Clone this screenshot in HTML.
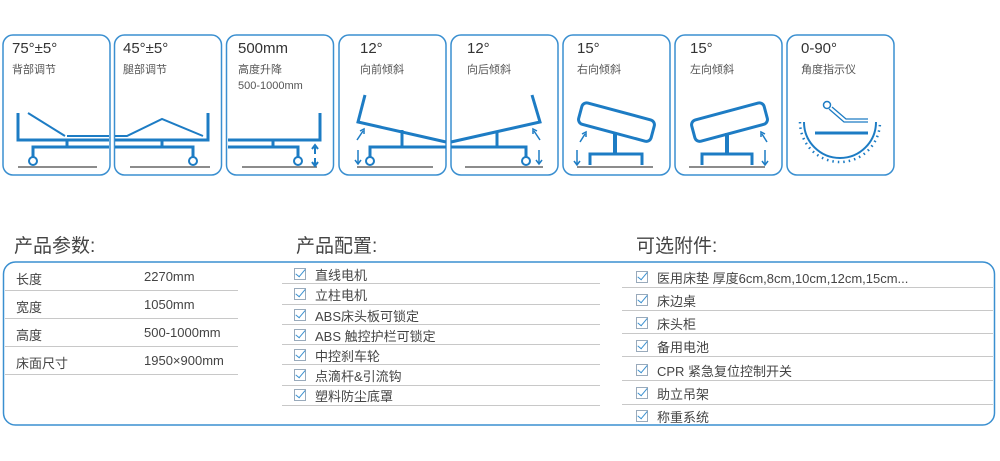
<!DOCTYPE html>
<html><head><meta charset="utf-8"><style>
body{margin:0;width:1000px;height:461px;background:#fff;position:relative;overflow:hidden;font-family:"Liberation Sans","Noto Sans CJK SC",sans-serif;}
.t{position:absolute;white-space:nowrap;}
.big{font-size:15px;color:#333;}
.sub{font-size:11px;color:#555;}
.h{font-size:19px;color:#444;}
.r{font-size:13px;color:#444;}
.line{position:absolute;height:1px;background:#c8c8c8;}
.ck{position:absolute;width:10px;height:10px;border:1px solid #9ab;}
.ck:after{content:"";position:absolute;left:3px;top:-2px;width:4px;height:9px;border:solid #3a90d0;border-width:0 1.5px 1.5px 0;transform:rotate(40deg);}
</style></head><body>
<svg width="1000" height="461" style="position:absolute;left:0;top:0" fill="none" stroke="#1d7cc4" stroke-width="3">
<g stroke="#3a8fd0" stroke-width="1.5">
<rect x="3" y="35" width="107" height="140" rx="10"/>
<rect x="114.5" y="35" width="107" height="140" rx="10"/>
<rect x="226.5" y="35" width="107" height="140" rx="10"/>
<rect x="339" y="35" width="107" height="140" rx="10"/>
<rect x="451" y="35" width="107" height="140" rx="10"/>
<rect x="563" y="35" width="107" height="140" rx="10"/>
<rect x="675" y="35" width="107" height="140" rx="10"/>
<rect x="787" y="35" width="107" height="140" rx="10"/>
<rect x="3.5" y="262" width="991" height="163" rx="12"/>
</g>
<g stroke="#666" stroke-width="1.5">
<line x1="18" y1="167" x2="97" y2="167"/><line x1="130" y1="167" x2="210" y2="167"/>
<line x1="242" y1="167" x2="317" y2="167"/><line x1="357" y1="167" x2="433" y2="167"/>
<line x1="465" y1="167" x2="543" y2="167"/><line x1="577" y1="167" x2="653" y2="167"/>
<line x1="689" y1="167" x2="765" y2="167"/>
</g>
<!-- card1 -->
<polyline points="18,113 18,140 109,140"/>
<line x1="28" y1="113" x2="65" y2="136" stroke-width="2"/>
<line x1="67" y1="136" x2="109" y2="136" stroke-width="2"/>
<line x1="67" y1="140" x2="67" y2="147"/>
<polyline points="33,157 33,147 109,147"/>
<circle cx="33" cy="161" r="4" stroke-width="2"/>
<!-- card2 -->
<polyline points="115,140 208,140 208,113"/>
<polyline points="115,136 127,136 162,119 203,136" stroke-width="2"/>
<line x1="162" y1="140" x2="162" y2="147"/>
<polyline points="115,147 193,147 193,157"/>
<circle cx="193" cy="161" r="4" stroke-width="2"/>
<!-- card3 -->
<polyline points="228,140 320,140 320,113"/>
<line x1="273" y1="140" x2="273" y2="147"/>
<polyline points="228,147 298,147 298,157"/>
<circle cx="298" cy="161" r="4" stroke-width="2"/>
<g stroke-width="2"><line x1="315" y1="147" x2="315" y2="154"/><polyline points="312,149 315,145 318,149"/><line x1="315" y1="158" x2="315" y2="166"/><polyline points="312,162 315,166 318,162"/></g>
<!-- card4 -->
<polyline points="365,95 358,122 446,142"/>
<line x1="402" y1="130" x2="402" y2="147"/>
<polyline points="370,157 370,147 446,147"/>
<circle cx="370" cy="161" r="4" stroke-width="2"/>
<g stroke-width="1.5"><line x1="357" y1="140" x2="363" y2="131"/><polyline points="360,131 364,129 364,134"/><line x1="358" y1="150" x2="358" y2="163"/><polyline points="355,160 358,164 361,160"/></g>
<!-- card5 -->
<polyline points="532,95 540,122 451,142"/>
<line x1="497" y1="131" x2="497" y2="147"/>
<polyline points="451,147 526,147 526,157"/>
<circle cx="526" cy="161" r="4" stroke-width="2"/>
<g stroke-width="1.5"><line x1="540" y1="140" x2="534" y2="131"/><polyline points="533,134 533,129 537,131"/><line x1="539" y1="150" x2="539" y2="163"/><polyline points="536,160 539,164 542,160"/></g>
<!-- card6 -->
<rect x="579" y="111" width="75" height="22" rx="5" transform="rotate(15 616 122)"/>
<line x1="615" y1="133" x2="615" y2="154" stroke-width="4"/>
<polyline points="590,165 590,154 642,154 642,165"/>
<g stroke-width="1.5"><line x1="580" y1="142" x2="585" y2="134"/><polyline points="582,134 586,132 586,137"/><line x1="577" y1="150" x2="577" y2="164"/><polyline points="574,161 577,165 580,161"/></g>
<!-- card7 -->
<rect x="692" y="111" width="75" height="22" rx="5" transform="rotate(-15 730 122)"/>
<line x1="727" y1="133" x2="727" y2="154" stroke-width="4"/>
<polyline points="702,165 702,154 752,154 752,165"/>
<g stroke-width="1.5"><line x1="767" y1="142" x2="762" y2="134"/><polyline points="761,137 761,132 765,134"/><line x1="765" y1="150" x2="765" y2="164"/><polyline points="762,161 765,165 768,161"/></g>
<!-- card8 -->
<circle cx="827" cy="105" r="3.5" stroke-width="1.5"/>
<polyline points="829,109 844,122 868,122" stroke-width="1.3"/>
<polyline points="832,107 846,119 868,119" stroke-width="1.3"/>
<line x1="815" y1="133" x2="868" y2="133" stroke-width="3"/>
<path d="M804,122 A36,36 0 0 0 876,122" stroke-width="2"/>
<path d="M800,122 A40,40 0 0 0 880,122" stroke-width="2.5" stroke-dasharray="1.5 4"/>
</svg>
<div class="t big" style="left:12px;top:40px">75°±5°</div><div class="t sub" style="left:12px;top:61px">背部调节</div>
<div class="t big" style="left:123px;top:40px">45°±5°</div><div class="t sub" style="left:123px;top:61px">腿部调节</div>
<div class="t big" style="left:238px;top:40px">500mm</div><div class="t sub" style="left:238px;top:61px">高度升降</div><div class="t sub" style="left:238px;top:80px">500-1000mm</div>
<div class="t big" style="left:360px;top:40px">12°</div><div class="t sub" style="left:360px;top:61px">向前倾斜</div>
<div class="t big" style="left:467px;top:40px">12°</div><div class="t sub" style="left:467px;top:61px">向后倾斜</div>
<div class="t big" style="left:577px;top:40px">15°</div><div class="t sub" style="left:577px;top:61px">右向倾斜</div>
<div class="t big" style="left:690px;top:40px">15°</div><div class="t sub" style="left:690px;top:61px">左向倾斜</div>
<div class="t big" style="left:801px;top:40px">0-90°</div><div class="t sub" style="left:801px;top:61px">角度指示仪</div>

<div class="t h" style="left:14px;top:231px">产品参数:</div>
<div class="t h" style="left:296px;top:231px">产品配置:</div>
<div class="t h" style="left:636px;top:231px">可选附件:</div>

<div class="t r" style="left:16px;top:269px">长度</div><div class="t r" style="left:144px;top:269px">2270mm</div>
<div class="t r" style="left:16px;top:297px">宽度</div><div class="t r" style="left:144px;top:297px">1050mm</div>
<div class="t r" style="left:16px;top:325px">高度</div><div class="t r" style="left:144px;top:325px">500-1000mm</div>
<div class="t r" style="left:16px;top:353px">床面尺寸</div><div class="t r" style="left:144px;top:353px">1950×900mm</div>
<div class="line" style="left:5px;top:290px;width:233px"></div>
<div class="line" style="left:5px;top:318px;width:233px"></div>
<div class="line" style="left:5px;top:346px;width:233px"></div>
<div class="line" style="left:5px;top:374px;width:233px"></div>

<div class="ck" style="left:294px;top:268px"></div><div class="t r" style="left:315px;top:265px">直线电机</div>
<div class="ck" style="left:294px;top:288px"></div><div class="t r" style="left:315px;top:285px">立柱电机</div>
<div class="ck" style="left:294px;top:309px"></div><div class="t r" style="left:315px;top:306px">ABS床头板可锁定</div>
<div class="ck" style="left:294px;top:329px"></div><div class="t r" style="left:315px;top:326px">ABS 触控护栏可锁定</div>
<div class="ck" style="left:294px;top:349px"></div><div class="t r" style="left:315px;top:346px">中控刹车轮</div>
<div class="ck" style="left:294px;top:369px"></div><div class="t r" style="left:315px;top:366px">点滴杆&amp;引流钩</div>
<div class="ck" style="left:294px;top:389px"></div><div class="t r" style="left:315px;top:386px">塑料防尘底罩</div>
<div class="line" style="left:282px;top:283px;width:318px"></div>
<div class="line" style="left:282px;top:304px;width:318px"></div>
<div class="line" style="left:282px;top:324px;width:318px"></div>
<div class="line" style="left:282px;top:344px;width:318px"></div>
<div class="line" style="left:282px;top:364px;width:318px"></div>
<div class="line" style="left:282px;top:385px;width:318px"></div>
<div class="line" style="left:282px;top:405px;width:318px"></div>

<div class="ck" style="left:636px;top:271px"></div><div class="t r" style="left:657px;top:268px">医用床垫 厚度6cm,8cm,10cm,12cm,15cm...</div>
<div class="ck" style="left:636px;top:294px"></div><div class="t r" style="left:657px;top:291px">床边桌</div>
<div class="ck" style="left:636px;top:317px"></div><div class="t r" style="left:657px;top:314px">床头柜</div>
<div class="ck" style="left:636px;top:340px"></div><div class="t r" style="left:657px;top:337px">备用电池</div>
<div class="ck" style="left:636px;top:364px"></div><div class="t r" style="left:657px;top:361px">CPR 紧急复位控制开关</div>
<div class="ck" style="left:636px;top:387px"></div><div class="t r" style="left:657px;top:384px">助立吊架</div>
<div class="ck" style="left:636px;top:410px"></div><div class="t r" style="left:657px;top:407px">称重系统</div>
<div class="line" style="left:622px;top:287px;width:371px"></div>
<div class="line" style="left:622px;top:310px;width:371px"></div>
<div class="line" style="left:622px;top:333px;width:371px"></div>
<div class="line" style="left:622px;top:356px;width:371px"></div>
<div class="line" style="left:622px;top:380px;width:371px"></div>
<div class="line" style="left:622px;top:404px;width:371px"></div>
</body></html>
